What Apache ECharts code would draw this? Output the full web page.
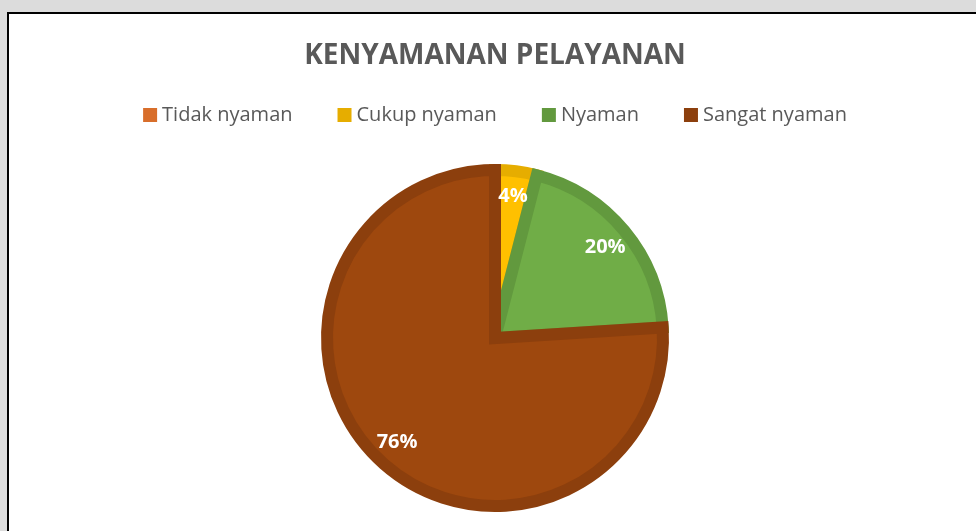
<!DOCTYPE html>
<html>
<head>
<meta charset="utf-8">
<script src="https://cdn.jsdelivr.net/npm/echarts@6/dist/echarts.min.js"></script>
<style>
  html, body { margin: 0; padding: 0; background: #dcdcdc; width: 976px; height: 531px; overflow: hidden; }
  #frame { position: absolute; left: 7px; top: 12px; width: 1000px; height: 600px; border: 2px solid #000; background: #fff; }
  #chart { position: absolute; left: 7px; top: 0; width: 976px; height: 531px; }
</style>
</head>
<body>
<div id="frame"></div>
<div id="chart"></div>
<script>
const titleText = 'KENYAMANAN PELAYANAN';
const categories = ['Tidak nyaman', 'Cukup nyaman', 'Nyaman', 'Sangat nyaman'];
const values = [0, 4, 20, 76];
const fillColors = ['#ed7d31', '#ffc000', '#70ad47', '#9e480e'];
const borderColors = ['#d86e2b', '#e6ad00', '#62993e', '#8c3f0d'];

const chart = echarts.init(document.getElementById('chart'), null, { renderer: 'canvas' });

const pieData = categories.map((name, i) => ({
  name: name,
  value: values[i],
  itemStyle: { color: fillColors[i], borderColor: borderColors[i], borderWidth: values[i] > 0 ? 12 : 0 }
}));

const labelData = categories.map((name, i) => ({ name: name, value: values[i] }));

chart.setOption({
  backgroundColor: 'transparent',
  animation: false,
  title: {
    text: titleText,
    left: 'center',
    top: 37,
    textStyle: { fontFamily: 'Open Sans', fontWeight: 'bold', fontSize: 28, color: '#595959' }
  },
  legend: {
    top: 100,
    left: 'center',
    icon: 'rect',
    itemWidth: 14,
    itemHeight: 14,
    itemGap: 45,
    textStyle: { fontFamily: 'Open Sans', fontSize: 20, color: '#595959' },
    itemStyle: { borderWidth: 0 },
    data: categories.map((name, i) => ({ name: name, itemStyle: { color: borderColors[i], borderWidth: 0 } }))
  },
  series: [
    {
      type: 'pie',
      center: [488, 338],
      radius: [0, 168],
      startAngle: 90,
      clockwise: true,
      silent: true,
      label: { show: false },
      labelLine: { show: false },
      itemStyle: { borderJoin: 'miter' },
      data: pieData
    },
    {
      type: 'pie',
      center: [488, 338],
      radius: [106, 174],
      startAngle: 90,
      clockwise: true,
      silent: true,
      itemStyle: { color: 'rgba(0,0,0,0)', borderWidth: 0 },
      label: {
        show: true,
        position: 'inside',
        color: '#ffffff',
        fontFamily: 'Open Sans',
        fontWeight: 'bold',
        fontSize: 20,
        formatter: p => p.value > 0 ? Math.round(p.percent) + '%' : ''
      },
      labelLine: { show: false },
      data: labelData
    }
  ]
});
</script>
</body>
</html>
